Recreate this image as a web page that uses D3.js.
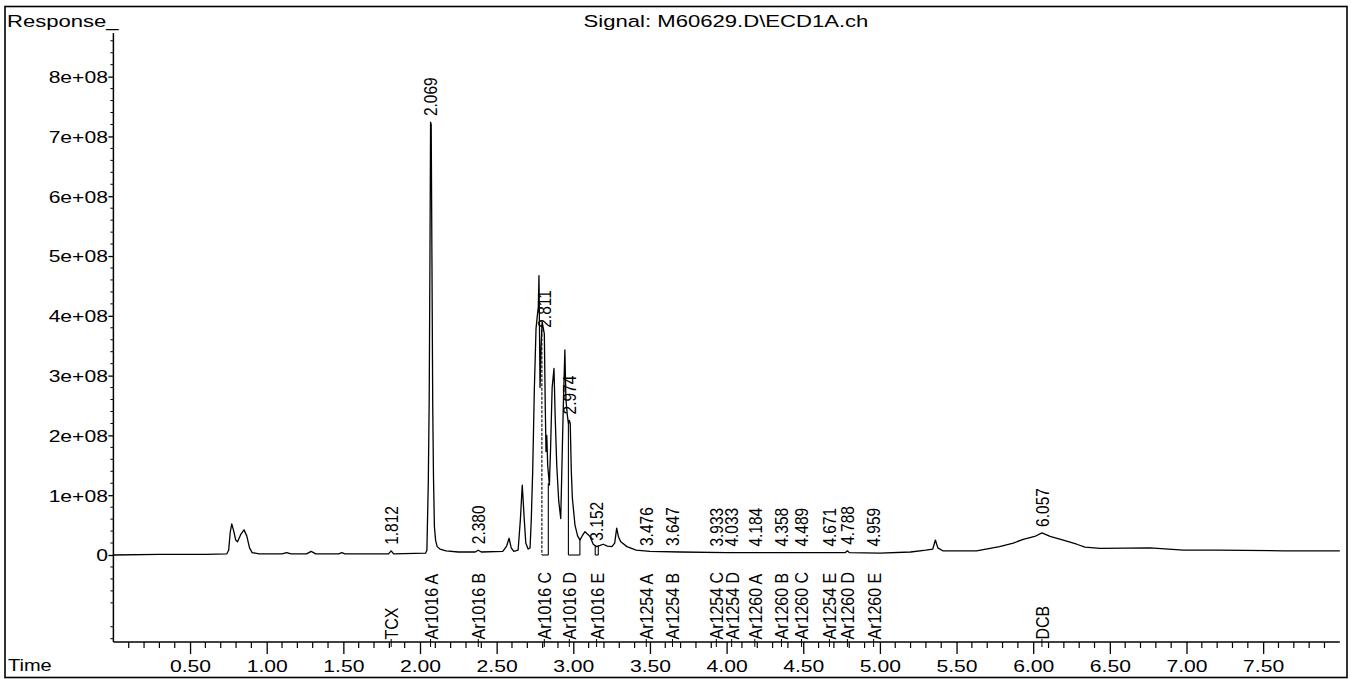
<!DOCTYPE html>
<html>
<head>
<meta charset="utf-8">
<script src="https://cdn.jsdelivr.net/npm/d3@7"></script>
<style>
  html, body { margin: 0; padding: 0; background: #fff; }
  svg { display: block; }
  text { font-family: "Liberation Sans", Arial, Helvetica, sans-serif; fill: #000; }
</style>
</head>
<body>
<svg id="chart" width="1351" height="679"></svg>
<script>
// ---- Chromatogram data -------------------------------------------------
const signalTitle = "Signal: M60629.D\\ECD1A.ch";
const yAxisTitle = "Response_";
const xAxisTitle = "Time";

const RESP_UNIT = 1e8;

// Detector trace: retention time (min) and response (x 1e8)
const traceTime = [
  0.00, 0.30, 0.60, 0.74, 0.752, 0.762, 0.772, 0.785, 0.798, 0.810, 0.830, 0.852, 0.870, 0.888, 0.905,
  0.95, 1.10, 1.13, 1.16, 1.26, 1.29, 1.32, 1.47, 1.49, 1.51, 1.795, 1.812, 1.828,
  2.036, 2.045, 2.054, 2.060, 2.065, 2.069, 2.073, 2.078, 2.083, 2.088, 2.094, 2.102, 2.112, 2.13, 2.17,
  2.25, 2.36, 2.380, 2.40, 2.54, 2.565, 2.581, 2.595, 2.612, 2.640, 2.655, 2.667, 2.680, 2.690, 2.705,
  2.718, 2.726, 2.735, 2.746, 2.757, 2.766, 2.772, 2.776, 2.779, 2.783, 2.790, 2.797, 2.804, 2.811,
  2.817, 2.822, 2.827, 2.833, 2.844, 2.852, 2.862, 2.874, 2.882, 2.892, 2.905, 2.918, 2.926, 2.935,
  2.945, 2.952, 2.961, 2.968, 2.974, 2.980, 2.987, 2.994, 3.011, 3.028, 3.044, 3.060, 3.076, 3.092,
  3.109, 3.130, 3.152, 3.175, 3.195, 3.222, 3.252, 3.270, 3.283, 3.295, 3.310, 3.350, 3.410, 3.50,
  3.70, 4.00, 4.50, 4.775, 4.788, 4.800, 5.00, 5.20, 5.30, 5.345, 5.362, 5.378, 5.41, 5.63, 5.78,
  5.87, 5.935, 6.01, 6.057, 6.11, 6.196, 6.284, 6.338, 6.436, 6.762, 6.98, 7.197, 7.63, 8.00
];
const traceResp = [
  0.00, 0.01, 0.01, 0.02, 0.08, 0.38, 0.52, 0.40, 0.25, 0.22, 0.34, 0.42, 0.32, 0.12, 0.04,
  0.02, 0.02, 0.04, 0.02, 0.02, 0.06, 0.02, 0.02, 0.04, 0.02, 0.02, 0.07, 0.02,
  0.03, 0.08, 1.2, 2.6, 5.0, 7.24, 7.20, 4.9, 2.5, 1.3, 0.47, 0.24, 0.14, 0.10, 0.07,
  0.05, 0.05, 0.08, 0.05, 0.06, 0.15, 0.28, 0.12, 0.06, 0.08, 0.6, 1.17, 0.6, 0.2, 0.10,
  0.12, 0.6, 1.39, 2.79, 3.79, 4.02, 4.15, 4.67, 3.9, 2.8, 3.5, 3.9, 3.8, 3.7,
  2.5, 1.73, 2.0, 1.5, 1.17, 1.8, 2.8, 3.12, 2.3, 1.5, 0.9, 0.61, 1.5, 2.51,
  3.43, 2.6, 2.34, 2.2, 2.25, 2.2, 1.4, 0.95, 0.5, 0.32, 0.25, 0.33, 0.39, 0.35,
  0.31, 0.18, 0.14, 0.16, 0.18, 0.15, 0.14, 0.20, 0.45, 0.30, 0.22, 0.14, 0.08, 0.06,
  0.05, 0.04, 0.04, 0.04, 0.07, 0.04, 0.03, 0.05, 0.08, 0.10, 0.25, 0.12, 0.07, 0.07, 0.14,
  0.20, 0.26, 0.31, 0.37, 0.31, 0.25, 0.18, 0.13, 0.11, 0.12, 0.08, 0.08, 0.07, 0.07
];

// Integrated peaks: retention time label and apex response (x 1e8)
const peakTimes = [1.812, 2.069, 2.380, 2.811, 2.974, 3.152, 3.476, 3.647, 3.933, 4.033, 4.184, 4.358, 4.489, 4.671, 4.788, 4.959, 6.057];
const peakLabels = ["1.812", "2.069", "2.380", "2.811", "2.974", "3.152", "3.476", "3.647", "3.933", "4.033", "4.184", "4.358", "4.489", "4.671", "4.788", "4.959", "6.057"];
const peakApex = [0.07, 7.24, 0.08, 3.70, 2.25, 0.14, 0.05, 0.05, 0.04, 0.04, 0.04, 0.04, 0.04, 0.04, 0.07, 0.04, 0.37];

// Expected compound windows
const compoundNames = ["TCX", "Ar1016 A", "Ar1016 B", "Ar1016 C", "Ar1016 D", "Ar1016 E", "Ar1254 A", "Ar1254 B", "Ar1254 C", "Ar1254 D", "Ar1260 A", "Ar1260 B", "Ar1260 C", "Ar1254 E", "Ar1260 D", "Ar1260 E", "DCB"];
const compoundTimes = [1.812, 2.069, 2.380, 2.811, 2.974, 3.152, 3.476, 3.647, 3.933, 4.033, 4.184, 4.358, 4.489, 4.671, 4.788, 4.959, 6.057];

// Integration drop lines (time, response at the trace x 1e8) and baseline segments
const dropTimes = [2.795, 2.837, 2.968, 3.043, 3.143, 3.163];
const dropResp = [3.85, 1.20, 2.20, 0.25, 0.16, 0.16];
const baselineSegments = [[2.795, 2.837], [2.968, 3.043], [3.143, 3.163]];

// Axis ticks
const xTickValues = [0.5, 1.0, 1.5, 2.0, 2.5, 3.0, 3.5, 4.0, 4.5, 5.0, 5.5, 6.0, 6.5, 7.0, 7.5];
const xTickLabels = ["0.50", "1.00", "1.50", "2.00", "2.50", "3.00", "3.50", "4.00", "4.50", "5.00", "5.50", "6.00", "6.50", "7.00", "7.50"];
const yTickValues = [0, 1e8, 2e8, 3e8, 4e8, 5e8, 6e8, 7e8, 8e8];
const yTickLabels = ["0", "1e+08", "2e+08", "3e+08", "4e+08", "5e+08", "6e+08", "7e+08", "8e+08"];

// ---- Drawing -------------------------------------------------------------
const svg = d3.select("#chart");
const W = 1351, H = 679;

const x = d3.scaleLinear().domain([0, 8]).range([113.4, 1339.8]);
const y = d3.scaleLinear().domain([-1.455e8, 8.73e8]).range([642, 33]);

const FONT = 16;
const SX = 1.32;     // horizontal glyph stretch of upright text
const SXR = 1.2;     // thickness stretch of rotated labels

// outer frame
svg.append("rect")
  .attr("x", 5).attr("y", 6.5).attr("width", 1342).attr("height", 671)
  .attr("fill", "none").attr("stroke", "#000").attr("stroke-width", 1.6);

// titles
function stretchedText(g, str, tx, ty, anchor, sx, size) {
  return g.append("text")
    .attr("transform", `translate(${tx},${ty}) scale(${sx},1)`)
    .attr("text-anchor", anchor)
    .style("font-size", size + "px")
    .text(str);
}
stretchedText(svg, yAxisTitle, 7, 27, "start", 1.38, FONT);
stretchedText(svg, signalTitle, 726, 27, "middle", 1.3, 17);
stretchedText(svg, xAxisTitle, 8, 671, "start", 1.25, FONT);

// y axis
const yAxisG = svg.append("g").attr("transform", `translate(${x(0)},0)`);
yAxisG.append("line")
  .attr("x1", 0).attr("x2", 0).attr("y1", y.range()[1]).attr("y2", y.range()[0])
  .attr("stroke", "#000").attr("stroke-width", 1.5);
const yMinor = d3.range(-7, 44).map(i => i * 2e7).filter(v => v % 1e8 !== 0);
yAxisG.selectAll("line.minor").data(yMinor).join("line")
  .attr("class", "minor")
  .attr("x1", -3).attr("x2", 0)
  .attr("y1", d => y(d)).attr("y2", d => y(d))
  .attr("stroke", "#000").attr("stroke-width", 1);
const yAxis = d3.axisLeft(y).tickValues(yTickValues)
  .tickFormat((d, i) => yTickLabels[i]).tickSize(5).tickSizeOuter(0);
const yAx = svg.append("g").attr("transform", `translate(${x(0)},0)`).call(yAxis);
yAx.select(".domain").remove();
yAx.selectAll(".tick line").attr("stroke", "#000").attr("stroke-width", 1.3);
yAx.selectAll(".tick text")
  .attr("x", null).attr("dy", null)
  .attr("transform", `translate(-5.5,5.8) scale(${SX},1)`)
  .attr("text-anchor", "end")
  .style("font-size", FONT + "px")
  .style("font-family", '"Liberation Sans", Arial, sans-serif')
  .attr("fill", "#000");

// x axis
const xAxisG = svg.append("g").attr("transform", `translate(0,${y.range()[0]})`);
xAxisG.append("line")
  .attr("x1", x(0)).attr("x2", x(8)).attr("y1", 0).attr("y2", 0)
  .attr("stroke", "#000").attr("stroke-width", 1.5);
const xMinor = d3.range(1, 80).map(i => i / 10).filter(v => Math.abs(v * 2 - Math.round(v * 2)) > 1e-6);
xAxisG.selectAll("line.minor").data(xMinor).join("line")
  .attr("class", "minor")
  .attr("x1", d => x(d)).attr("x2", d => x(d))
  .attr("y1", 0).attr("y2", 6)
  .attr("stroke", "#000").attr("stroke-width", 1.2);
const xAxis = d3.axisBottom(x).tickValues(xTickValues)
  .tickFormat((d, i) => xTickLabels[i]).tickSize(12).tickSizeOuter(0);
const xAx = svg.append("g").attr("transform", `translate(0,${y.range()[0]})`).call(xAxis);
xAx.select(".domain").remove();
xAx.selectAll(".tick line").attr("stroke", "#000").attr("stroke-width", 1.3);
xAx.selectAll(".tick text")
  .attr("y", null).attr("dy", null)
  .attr("transform", `translate(0,29.5) scale(${SX},1)`)
  .style("font-size", FONT + "px")
  .style("font-family", '"Liberation Sans", Arial, sans-serif')
  .attr("fill", "#000");

// compound window marks and names
svg.append("g").selectAll("line").data(compoundTimes).join("line")
  .attr("x1", d => x(d)).attr("x2", d => x(d))
  .attr("y1", y.range()[0] - 3).attr("y2", y.range()[0] + 5)
  .attr("stroke", "#000").attr("stroke-width", 1);
svg.append("g").selectAll("text").data(compoundNames).join("text")
  .attr("transform", (d, i) => `translate(${x(compoundTimes[i])},${y.range()[0] - 2.5}) scale(${SXR},1) rotate(-90)`)
  .attr("dy", "0.36em")
  .attr("text-anchor", "start")
  .style("font-size", FONT + "px")
  .text(d => d);

// trace
const traceData = traceTime.map((t, i) => [t, traceResp[i] * RESP_UNIT]);
const line = d3.line().x(d => x(d[0])).y(d => y(d[1]));
svg.append("path")
  .datum(traceData)
  .attr("d", line)
  .attr("fill", "none")
  .attr("stroke", "#000")
  .attr("stroke-width", 1.3)
  .attr("stroke-linejoin", "round");

// integration drop lines and baselines
const intG = svg.append("g").attr("stroke", "#000").attr("stroke-width", 1.1);
intG.selectAll("line.drop").data(dropTimes).join("line")
  .attr("class", "drop")
  .attr("x1", d => x(d)).attr("x2", d => x(d))
  .attr("y1", (d, i) => y(dropResp[i] * RESP_UNIT)).attr("y2", y(0))
  .attr("stroke-dasharray", (d, i) => i === 0 ? "3,1.5" : null);
intG.selectAll("line.base").data(baselineSegments).join("line")
  .attr("class", "base")
  .attr("x1", d => x(d[0])).attr("x2", d => x(d[1]))
  .attr("y1", y(0)).attr("y2", y(0));

// peak retention time labels
svg.append("g").selectAll("text").data(peakLabels).join("text")
  .attr("transform", (d, i) => `translate(${x(peakTimes[i])},${y(peakApex[i] * RESP_UNIT) - 6}) scale(${SXR},1) rotate(-90)`)
  .attr("dy", "0.36em")
  .attr("text-anchor", "start")
  .style("font-size", "15.5px")
  .text(d => d);
</script>
</body>
</html>
